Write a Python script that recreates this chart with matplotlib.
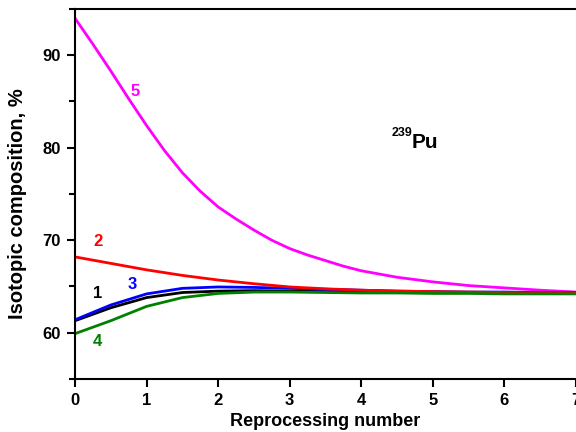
import numpy as np
import matplotlib
matplotlib.use("Agg")
import matplotlib.pyplot as plt
from matplotlib.ticker import MultipleLocator

# Pu-239 content vs number of reprocessing cycles
x_fine = [0, 0.25, 0.5, 0.75, 1, 1.25, 1.5, 1.75, 2, 2.25, 2.5, 2.75, 3,
          3.25, 3.5, 3.75, 4, 4.5, 5, 5.5, 6, 6.5, 7]
pu5 = [94.0, 91.2, 88.3, 85.3, 82.4, 79.7, 77.3, 75.3, 73.6, 72.3, 71.1, 70.0, 69.1,
       68.4, 67.8, 67.2, 66.7, 66.0, 65.5, 65.1, 64.85, 64.6, 64.4]

x_half = [0, 0.5, 1, 1.5, 2, 2.5, 3, 3.5, 4, 4.5, 5, 5.5, 6, 6.5, 7]
pu1 = [61.3, 62.7, 63.8, 64.35, 64.5, 64.55, 64.5, 64.45, 64.4, 64.4, 64.35, 64.35, 64.3, 64.3, 64.3]
pu2 = [68.2, 67.5, 66.8, 66.2, 65.7, 65.3, 64.95, 64.75, 64.6, 64.5, 64.45, 64.4, 64.35, 64.3, 64.3]
pu3 = [61.4, 63.0, 64.2, 64.8, 64.95, 64.9, 64.8, 64.7, 64.6, 64.5, 64.45, 64.4, 64.4, 64.35, 64.3]
pu4 = [59.9, 61.3, 62.85, 63.8, 64.25, 64.4, 64.4, 64.35, 64.3, 64.3, 64.25, 64.25, 64.2, 64.2, 64.2]

plt.rcParams["font.family"] = ["Liberation Sans", "DejaVu Sans"]
plt.rcParams["font.weight"] = "bold"

fig = plt.figure(figsize=(5.76, 4.32), dpi=100)
ax = fig.add_axes([75 / 576, 53 / 432, 501 / 576, 370 / 432])

lw = 2.0
ax.plot(x_fine, pu5, color="#ff00ff", lw=lw)
ax.plot(x_half, pu1, color="black", lw=lw)
ax.plot(x_half, pu3, color="#0000ff", lw=lw)
ax.plot(x_half, pu2, color="#ff0000", lw=lw)
ax.plot(x_half, pu4, color="#008000", lw=lw)

num_kw = dict(fontsize=12, fontweight="bold", ha="center", va="center")
ax.text(0.84, 86.1, "5", color="#ff00ff", **num_kw)
ax.text(0.32, 69.9, "2", color="#ff0000", **num_kw)
ax.text(0.32, 64.2, "1", color="black", **num_kw)
ax.text(0.80, 65.2, "3", color="#0000ff", **num_kw)
ax.text(0.31, 59.0, "4", color="#008000", **num_kw)

# isotope mass number as a raised prefix
ax.text(4.42, 81.3, "239", fontsize=9, fontweight="bold", ha="left", va="baseline")
ax.text(4.71, 80.0, "Pu", fontsize=15, fontweight="bold", ha="left", va="baseline")

ax.set_xlim(0, 7)
ax.set_ylim(55, 95)
ax.xaxis.set_major_locator(MultipleLocator(1))
ax.yaxis.set_major_locator(MultipleLocator(10))
ax.yaxis.set_minor_locator(MultipleLocator(5))
ax.set_yticks([60, 70, 80, 90])

for s in ax.spines.values():
    s.set_linewidth(1.5)
ax.spines["right"].set_visible(False)

ax.tick_params(which="major", direction="out", length=6, width=1.5, labelsize=12, pad=4)
ax.tick_params(which="minor", direction="out", length=4, width=1.5)
ax.tick_params(axis="x", top=False)
for lbl in ax.get_xticklabels() + ax.get_yticklabels():
    lbl.set_fontweight("bold")

ax.set_xlabel("Reprocessing number", fontsize=13, fontweight="bold", labelpad=4)
ax.set_ylabel("Isotopic composition, %", fontsize=14.5, fontweight="bold")
ax.yaxis.set_label_coords(-0.096, 0.474)

fig.savefig("out.png", dpi=100)
